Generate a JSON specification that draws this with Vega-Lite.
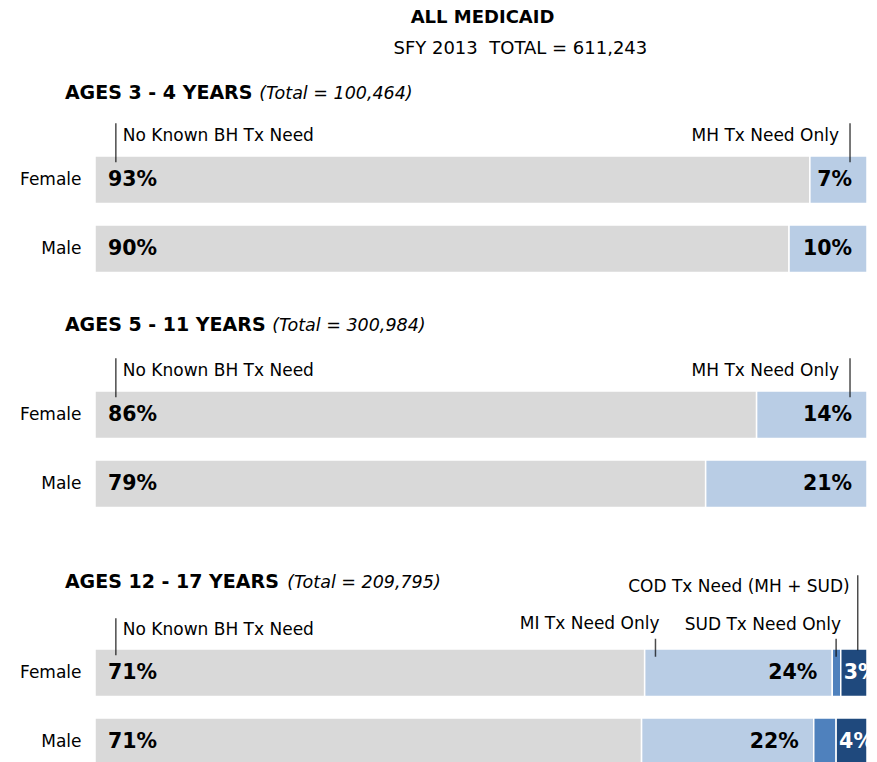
{
  "$schema": "https://vega.github.io/schema/vega-lite/v6.json",
  "padding": {"left": 19, "top": 9, "right": 0, "bottom": 0},
  "bounds": "flush",
  "spacing": 0,
  "config": {
    "font": "DejaVu Sans",
    "view": {"stroke": null},
    "axis": {"labelFont": "DejaVu Sans"}
  },
  "datasets": {
    "bars": [
      {"age": "3 - 4", "sex": "Female", "need": "No Known BH Tx Need", "order": 1, "pct": 0.926},
      {"age": "3 - 4", "sex": "Female", "need": "MH Tx Need Only", "order": 2, "pct": 0.074},
      {"age": "3 - 4", "sex": "Male", "need": "No Known BH Tx Need", "order": 1, "pct": 0.899},
      {"age": "3 - 4", "sex": "Male", "need": "MH Tx Need Only", "order": 2, "pct": 0.101},
      {"age": "5 - 11", "sex": "Female", "need": "No Known BH Tx Need", "order": 1, "pct": 0.857},
      {"age": "5 - 11", "sex": "Female", "need": "MH Tx Need Only", "order": 2, "pct": 0.143},
      {"age": "5 - 11", "sex": "Male", "need": "No Known BH Tx Need", "order": 1, "pct": 0.791},
      {"age": "5 - 11", "sex": "Male", "need": "MH Tx Need Only", "order": 2, "pct": 0.209},
      {"age": "12 - 17", "sex": "Female", "need": "No Known BH Tx Need", "order": 1, "pct": 0.712},
      {"age": "12 - 17", "sex": "Female", "need": "MI Tx Need Only", "order": 2, "pct": 0.243},
      {"age": "12 - 17", "sex": "Female", "need": "SUD Tx Need Only", "order": 3, "pct": 0.011},
      {"age": "12 - 17", "sex": "Female", "need": "COD Tx Need (MH + SUD)", "order": 4, "pct": 0.034},
      {"age": "12 - 17", "sex": "Male", "need": "No Known BH Tx Need", "order": 1, "pct": 0.708},
      {"age": "12 - 17", "sex": "Male", "need": "MI Tx Need Only", "order": 2, "pct": 0.223},
      {"age": "12 - 17", "sex": "Male", "need": "SUD Tx Need Only", "order": 3, "pct": 0.029},
      {"age": "12 - 17", "sex": "Male", "need": "COD Tx Need (MH + SUD)", "order": 4, "pct": 0.040}
    ],
    "notes": [
      {"age": "3 - 4", "label": "No Known BH Tx Need", "at": 0.027},
      {"age": "3 - 4", "label": "MH Tx Need Only", "at": 0.978},
      {"age": "5 - 11", "label": "No Known BH Tx Need", "at": 0.027},
      {"age": "5 - 11", "label": "MH Tx Need Only", "at": 0.978},
      {"age": "12 - 17", "label": "No Known BH Tx Need", "at": 0.027},
      {"age": "12 - 17", "label": "MI Tx Need Only", "at": 0.726},
      {"age": "12 - 17", "label": "SUD Tx Need Only", "at": 0.960},
      {"age": "12 - 17", "label": "COD Tx Need (MH + SUD)", "at": 0.988}
    ],
    "titles": [
      {"age": "3 - 4", "group": "AGES 3 - 4 YEARS", "total": "(Total = 100,464)"},
      {"age": "5 - 11", "group": "AGES 5 - 11 YEARS", "total": "(Total = 300,984)"},
      {"age": "12 - 17", "group": "AGES 12 - 17 YEARS", "total": "(Total = 209,795)"}
    ],
    "heading": [
      {"title": "ALL MEDICAID", "subtitle": "SFY 2013\u00a0 TOTAL = 611,243"}
    ]
  },
  "vconcat": [
    {
      "width": 772,
      "height": 235,
      "encoding": {
        "y": {"field": "sex", "type": "nominal", "title": null,
              "scale": {"domain": ["Female", "Male"], "range": [0, 116.5], "paddingInner": 0.3116, "paddingOuter": 0},
              "axis": {"domain": false, "ticks": false, "labelPadding": 14, "labelFontSize": 17, "labelColor": "#000", "title": null}}
      },
      "layer": [
        {
          "data": {"name": "bars"},
          "transform": [
            {"filter": "datum.age === '3 - 4'"},
            {"stack": "pct", "groupby": ["sex"], "sort": [{"field": "order", "order": "ascending"}], "offset": "normalize", "as": ["x0", "x1"]}
          ],
          "layer": [
            {
              "mark": {"type": "bar", "stroke": "white", "strokeWidth": 1.5},
              "encoding": {
                "x": {"field": "x0", "type": "quantitative", "scale": {"domain": [0, 1], "nice": false, "zero": false}, "axis": null},
                "x2": {"field": "x1"},
                "color": {"field": "need", "type": "nominal", "legend": null,
                          "scale": {"domain": ["No Known BH Tx Need", "MH Tx Need Only", "MI Tx Need Only", "SUD Tx Need Only", "COD Tx Need (MH + SUD)"],
                                    "range": ["#D9D9D9", "#B9CDE5", "#B9CDE5", "#4F81BD", "#1F497D"]}}
              }
            },
            {
              "transform": [{"filter": "datum.need === 'No Known BH Tx Need'"}],
              "mark": {"type": "text", "align": "left", "baseline": "middle", "dx": 13, "fontSize": 20.5, "fontWeight": "bold", "color": "#000"},
              "encoding": {"x": {"field": "x0", "type": "quantitative"}, "text": {"field": "pct", "format": ".0%"}}
            },
            {
              "transform": [{"filter": "datum.need === 'MH Tx Need Only' || datum.need === 'MI Tx Need Only'"}],
              "mark": {"type": "text", "align": "right", "baseline": "middle", "dx": -15, "fontSize": 20.5, "fontWeight": "bold", "color": "#000"},
              "encoding": {"x": {"field": "x1", "type": "quantitative"}, "text": {"field": "pct", "format": ".0%"}}
            }
          ]
        },
        {
          "data": {"name": "notes"},
          "transform": [{"filter": "datum.age === '3 - 4'"}],
          "layer": [
            {
              "mark": {"type": "tick", "orient": "vertical", "size": 39, "thickness": 1.5, "yOffset": -37, "color": "#000"},
              "encoding": {"x": {"field": "at", "type": "quantitative"}, "y": {"datum": "Female", "type": "nominal"}}
            },
            {
              "transform": [{"filter": "datum.label === 'No Known BH Tx Need'"}],
              "mark": {"type": "text", "align": "left", "baseline": "alphabetic", "dx": 7, "yOffset": -38.5, "fontSize": 17, "color": "#000"},
              "encoding": {"x": {"field": "at", "type": "quantitative"}, "y": {"datum": "Female", "type": "nominal"}, "text": {"field": "label"}}
            },
            {
              "transform": [{"filter": "datum.label !== 'No Known BH Tx Need'"}],
              "mark": {"type": "text", "align": "right", "baseline": "alphabetic", "dx": -11, "yOffset": -38.5, "fontSize": 17, "color": "#000"},
              "encoding": {"x": {"field": "at", "type": "quantitative"}, "y": {"datum": "Female", "type": "nominal"}, "text": {"field": "label"}}
            }
          ]
        },
        {
          "data": {"name": "titles"},
          "transform": [{"filter": "datum.age === '3 - 4'"}],
          "layer": [
            {
              "mark": {"type": "text", "align": "left", "baseline": "alphabetic", "yOffset": -80.5, "fontSize": 19, "fontWeight": "bold", "color": "#000"},
              "encoding": {"x": {"datum": -0.039, "type": "quantitative"}, "y": {"datum": "Female", "type": "nominal"}, "text": {"field": "group"}}
            },
            {
              "mark": {"type": "text", "align": "left", "baseline": "alphabetic", "yOffset": -80.5, "fontSize": 17.5, "fontStyle": "italic", "color": "#000"},
              "encoding": {"x": {"datum": 0.2127, "type": "quantitative"}, "y": {"datum": "Female", "type": "nominal"}, "text": {"field": "total"}}
            }
          ]
        },
        {
          "data": {"name": "heading"},
          "layer": [
            {
              "mark": {"type": "text", "align": "center", "baseline": "alphabetic", "yOffset": -156.5, "fontSize": 18, "fontWeight": "bold", "color": "#000"},
              "encoding": {"x": {"datum": 0.502, "type": "quantitative"}, "y": {"datum": "Female", "type": "nominal"}, "text": {"field": "title"}}
            },
            {
              "mark": {"type": "text", "align": "center", "baseline": "alphabetic", "yOffset": -125.5, "fontSize": 18, "color": "#000"},
              "encoding": {"x": {"datum": 0.551, "type": "quantitative"}, "y": {"datum": "Female", "type": "nominal"}, "text": {"field": "subtitle"}}
            }
          ]
        }
      ]
    },
    {
      "width": 772,
      "height": 258,
      "encoding": {
        "y": {"field": "sex", "type": "nominal", "title": null,
              "scale": {"domain": ["Female", "Male"], "range": [0, 116.5], "paddingInner": 0.3116, "paddingOuter": 0},
              "axis": {"domain": false, "ticks": false, "labelPadding": 14, "labelFontSize": 17, "labelColor": "#000", "title": null}}
      },
      "layer": [
        {
          "data": {"name": "bars"},
          "transform": [
            {"filter": "datum.age === '5 - 11'"},
            {"stack": "pct", "groupby": ["sex"], "sort": [{"field": "order", "order": "ascending"}], "offset": "normalize", "as": ["x0", "x1"]}
          ],
          "layer": [
            {
              "mark": {"type": "bar", "stroke": "white", "strokeWidth": 1.5},
              "encoding": {
                "x": {"field": "x0", "type": "quantitative", "scale": {"domain": [0, 1], "nice": false, "zero": false}, "axis": null},
                "x2": {"field": "x1"},
                "color": {"field": "need", "type": "nominal", "legend": null,
                          "scale": {"domain": ["No Known BH Tx Need", "MH Tx Need Only", "MI Tx Need Only", "SUD Tx Need Only", "COD Tx Need (MH + SUD)"],
                                    "range": ["#D9D9D9", "#B9CDE5", "#B9CDE5", "#4F81BD", "#1F497D"]}}
              }
            },
            {
              "transform": [{"filter": "datum.need === 'No Known BH Tx Need'"}],
              "mark": {"type": "text", "align": "left", "baseline": "middle", "dx": 13, "fontSize": 20.5, "fontWeight": "bold", "color": "#000"},
              "encoding": {"x": {"field": "x0", "type": "quantitative"}, "text": {"field": "pct", "format": ".0%"}}
            },
            {
              "transform": [{"filter": "datum.need === 'MH Tx Need Only' || datum.need === 'MI Tx Need Only'"}],
              "mark": {"type": "text", "align": "right", "baseline": "middle", "dx": -15, "fontSize": 20.5, "fontWeight": "bold", "color": "#000"},
              "encoding": {"x": {"field": "x1", "type": "quantitative"}, "text": {"field": "pct", "format": ".0%"}}
            }
          ]
        },
        {
          "data": {"name": "notes"},
          "transform": [{"filter": "datum.age === '5 - 11'"}],
          "layer": [
            {
              "mark": {"type": "tick", "orient": "vertical", "size": 39, "thickness": 1.5, "yOffset": -37, "color": "#000"},
              "encoding": {"x": {"field": "at", "type": "quantitative"}, "y": {"datum": "Female", "type": "nominal"}}
            },
            {
              "transform": [{"filter": "datum.label === 'No Known BH Tx Need'"}],
              "mark": {"type": "text", "align": "left", "baseline": "alphabetic", "dx": 7, "yOffset": -38.5, "fontSize": 17, "color": "#000"},
              "encoding": {"x": {"field": "at", "type": "quantitative"}, "y": {"datum": "Female", "type": "nominal"}, "text": {"field": "label"}}
            },
            {
              "transform": [{"filter": "datum.label !== 'No Known BH Tx Need'"}],
              "mark": {"type": "text", "align": "right", "baseline": "alphabetic", "dx": -11, "yOffset": -38.5, "fontSize": 17, "color": "#000"},
              "encoding": {"x": {"field": "at", "type": "quantitative"}, "y": {"datum": "Female", "type": "nominal"}, "text": {"field": "label"}}
            }
          ]
        },
        {
          "data": {"name": "titles"},
          "transform": [{"filter": "datum.age === '5 - 11'"}],
          "layer": [
            {
              "mark": {"type": "text", "align": "left", "baseline": "alphabetic", "yOffset": -83.5, "fontSize": 19, "fontWeight": "bold", "color": "#000"},
              "encoding": {"x": {"datum": -0.039, "type": "quantitative"}, "y": {"datum": "Female", "type": "nominal"}, "text": {"field": "group"}}
            },
            {
              "mark": {"type": "text", "align": "left", "baseline": "alphabetic", "yOffset": -83.5, "fontSize": 17.5, "fontStyle": "italic", "color": "#000"},
              "encoding": {"x": {"datum": 0.2295, "type": "quantitative"}, "y": {"datum": "Female", "type": "nominal"}, "text": {"field": "total"}}
            }
          ]
        }
      ]
    },
    {
      "width": 772,
      "height": 117,
      "encoding": {
        "y": {"field": "sex", "type": "nominal", "title": null,
              "scale": {"domain": ["Female", "Male"], "range": [0, 116.5], "paddingInner": 0.3116, "paddingOuter": 0},
              "axis": {"domain": false, "ticks": false, "labelPadding": 14, "labelFontSize": 17, "labelColor": "#000", "title": null}}
      },
      "layer": [
        {
          "data": {"name": "bars"},
          "transform": [
            {"filter": "datum.age === '12 - 17'"},
            {"stack": "pct", "groupby": ["sex"], "sort": [{"field": "order", "order": "ascending"}], "offset": "normalize", "as": ["x0", "x1"]}
          ],
          "layer": [
            {
              "mark": {"type": "bar", "stroke": "white", "strokeWidth": 1.5},
              "encoding": {
                "x": {"field": "x0", "type": "quantitative", "scale": {"domain": [0, 1], "nice": false, "zero": false}, "axis": null},
                "x2": {"field": "x1"},
                "color": {"field": "need", "type": "nominal", "legend": null,
                          "scale": {"domain": ["No Known BH Tx Need", "MH Tx Need Only", "MI Tx Need Only", "SUD Tx Need Only", "COD Tx Need (MH + SUD)"],
                                    "range": ["#D9D9D9", "#B9CDE5", "#B9CDE5", "#4F81BD", "#1F497D"]}}
              }
            },
            {
              "transform": [{"filter": "datum.need === 'No Known BH Tx Need'"}],
              "mark": {"type": "text", "align": "left", "baseline": "middle", "dx": 13, "fontSize": 20.5, "fontWeight": "bold", "color": "#000"},
              "encoding": {"x": {"field": "x0", "type": "quantitative"}, "text": {"field": "pct", "format": ".0%"}}
            },
            {
              "transform": [{"filter": "datum.need === 'MH Tx Need Only' || datum.need === 'MI Tx Need Only'"}],
              "mark": {"type": "text", "align": "right", "baseline": "middle", "dx": -15, "fontSize": 20.5, "fontWeight": "bold", "color": "#000"},
              "encoding": {"x": {"field": "x1", "type": "quantitative"}, "text": {"field": "pct", "format": ".0%"}}
            },
            {
              "transform": [{"filter": "datum.need === 'COD Tx Need (MH + SUD)'"}],
              "mark": {"type": "text", "align": "left", "baseline": "middle", "dx": 3, "fontSize": 20.5, "fontWeight": "bold", "color": "#FFFFFF", "clip": true},
              "encoding": {"x": {"field": "x0", "type": "quantitative"}, "text": {"field": "pct", "format": ".0%"}}
            }
          ]
        },
        {
          "data": {"name": "notes"},
          "transform": [{"filter": "datum.age === '12 - 17'"}],
          "layer": [
            {
              "transform": [{"filter": "datum.label === 'No Known BH Tx Need'"}],
              "mark": {"type": "tick", "orient": "vertical", "size": 37, "thickness": 1.5, "yOffset": -36, "color": "#000"},
              "encoding": {"x": {"field": "at", "type": "quantitative"}, "y": {"datum": "Female", "type": "nominal"}}
            },
            {
              "transform": [{"filter": "datum.label === 'MI Tx Need Only' || datum.label === 'SUD Tx Need Only'"}],
              "mark": {"type": "tick", "orient": "vertical", "size": 18, "thickness": 1.5, "yOffset": -25, "color": "#000"},
              "encoding": {"x": {"field": "at", "type": "quantitative"}, "y": {"datum": "Female", "type": "nominal"}}
            },
            {
              "transform": [{"filter": "datum.label === 'COD Tx Need (MH + SUD)'"}],
              "mark": {"type": "tick", "orient": "vertical", "size": 75, "thickness": 1.5, "yOffset": -60, "color": "#000"},
              "encoding": {"x": {"field": "at", "type": "quantitative"}, "y": {"datum": "Female", "type": "nominal"}}
            },
            {
              "transform": [{"filter": "datum.label === 'No Known BH Tx Need'"}],
              "mark": {"type": "text", "align": "left", "baseline": "alphabetic", "dx": 7, "yOffset": -37.5, "fontSize": 17, "color": "#000"},
              "encoding": {"x": {"field": "at", "type": "quantitative"}, "y": {"datum": "Female", "type": "nominal"}, "text": {"field": "label"}}
            },
            {
              "transform": [{"filter": "datum.label === 'MI Tx Need Only'"}],
              "mark": {"type": "text", "align": "right", "baseline": "alphabetic", "dx": 4, "yOffset": -43.5, "fontSize": 17, "color": "#000"},
              "encoding": {"x": {"field": "at", "type": "quantitative"}, "y": {"datum": "Female", "type": "nominal"}, "text": {"field": "label"}}
            },
            {
              "transform": [{"filter": "datum.label === 'SUD Tx Need Only'"}],
              "mark": {"type": "text", "align": "right", "baseline": "alphabetic", "dx": 5, "yOffset": -42.5, "fontSize": 17, "color": "#000"},
              "encoding": {"x": {"field": "at", "type": "quantitative"}, "y": {"datum": "Female", "type": "nominal"}, "text": {"field": "label"}}
            },
            {
              "transform": [{"filter": "datum.label === 'COD Tx Need (MH + SUD)'"}],
              "mark": {"type": "text", "align": "right", "baseline": "alphabetic", "dx": -8, "yOffset": -80.5, "fontSize": 17, "color": "#000"},
              "encoding": {"x": {"field": "at", "type": "quantitative"}, "y": {"datum": "Female", "type": "nominal"}, "text": {"field": "label"}}
            }
          ]
        },
        {
          "data": {"name": "titles"},
          "transform": [{"filter": "datum.age === '12 - 17'"}],
          "layer": [
            {
              "mark": {"type": "text", "align": "left", "baseline": "alphabetic", "yOffset": -84.5, "fontSize": 19, "fontWeight": "bold", "color": "#000"},
              "encoding": {"x": {"datum": -0.039, "type": "quantitative"}, "y": {"datum": "Female", "type": "nominal"}, "text": {"field": "group"}}
            },
            {
              "mark": {"type": "text", "align": "left", "baseline": "alphabetic", "yOffset": -84.5, "fontSize": 17.5, "fontStyle": "italic", "color": "#000"},
              "encoding": {"x": {"datum": 0.249, "type": "quantitative"}, "y": {"datum": "Female", "type": "nominal"}, "text": {"field": "total"}}
            }
          ]
        }
      ]
    }
  ]
}
